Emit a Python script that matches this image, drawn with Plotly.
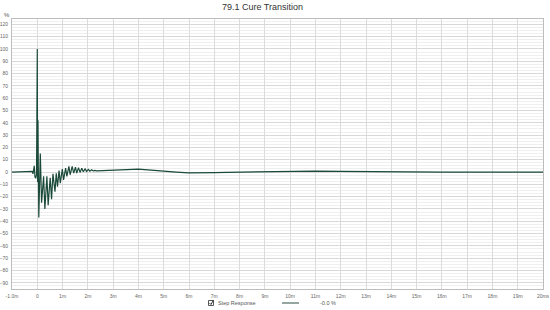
import plotly.graph_objects as go

# Step response data (time in ms, value in %)
time_ms = [-1.0, -0.5, -0.25, -0.2, -0.17, -0.14, -0.12, -0.09, -0.06, -0.03, -0.01,
           0.0, 0.012, 0.02, 0.028, 0.04, 0.06, 0.09, 0.12, 0.17, 0.25, 0.30, 0.38,
           0.43, 0.51, 0.565, 0.62, 0.70, 0.75, 0.80, 0.86, 0.91, 0.99, 1.04, 1.12,
           1.17, 1.25, 1.30, 1.38, 1.44, 1.51, 1.56, 1.63, 1.69, 1.76, 1.82, 1.89,
           1.95, 2.02, 2.08, 2.15, 2.21, 2.28, 2.35, 2.5, 2.8, 3.0, 3.5, 4.0, 4.5,
           5.0, 5.5, 6.0, 6.5, 7.0, 7.5, 8.0, 9.0, 10.0, 11.0, 12.0, 13.0, 14.0,
           15.0, 16.0, 17.0, 18.0, 19.0, 20.0]
step_pct = [0.0, 0.0, 0.3, 0.5, -1.5, 2.0, 5.0, -4.0, -5.0, -2.0, 40.0,
            100.0, -8.0, 17.0, 42.0, 5.0, -37.0, 0.0, 15.0, -25.0, -3.5, -30.0, -3.5,
            -27.0, -4.6, -22.0, -1.4, -16.0, -1.0, -12.0, 1.1, -9.0, 2.4, -6.4, 3.2,
            -3.5, 4.6, -2.2, 4.6, -0.9, 4.0, -0.9, 3.6, -0.3, 3.0, 0.2, 2.6,
            0.5, 2.2, 0.7, 1.8, 0.9, 1.4, 1.0, 1.1, 1.3, 1.6, 2.2, 2.3, 1.6,
            0.6, 0.0, -0.7, -0.8, -0.5, -0.2, 0.0, 0.3, 0.7, 0.8, 0.5, 0.2, 0.0,
            0.0, -0.1, -0.1, -0.2, -0.1, 0.0]

x_tickvals = list(range(-1, 21))
x_ticktext = ["-1.0m", "0"] + [f"{i}m" for i in range(1, 20)] + ["20ms"]
y_tickvals = list(range(-90, 121, 10))

title_text = "79.1 Cure Transition"
legend_name = "Step Response"
legend_value = "-0.0 %"

W, H = 550, 310
L, R, T, B = 12, 7, 19, 21
pw, ph = W - L - R, H - T - B

def px(x):
    return (x - L) / pw

def py(y):
    return (H - B - y) / ph

LINE = "#1b4a3b"
TICKFONT = dict(size=5, color="#666666", family="Liberation Sans Narrow, Liberation Sans, Arial, sans-serif")

fig = go.Figure()
fig.add_trace(go.Scatter(x=time_ms, y=step_pct, mode="lines",
                         line=dict(color=LINE, width=1.2), showlegend=False,
                         hoverinfo="skip"))

fig.update_layout(
    width=W, height=H, autosize=False,
    margin=dict(l=L, r=R, t=T, b=B, pad=0),
    paper_bgcolor="white", plot_bgcolor="white",
    font=dict(family="Liberation Sans, Arial, sans-serif", size=6, color="#666666"),
    xaxis=dict(range=[-1, 20], tickvals=x_tickvals, ticktext=x_ticktext,
               automargin=False, ticklabeloverflow="allow",
               showgrid=True, gridcolor="#dcdcdc", gridwidth=1,
               zeroline=False, showline=True, linecolor="#bdbdbd", mirror=True,
               ticks="", tickfont=TICKFONT, ticklabelstandoff=2),
    yaxis=dict(range=[-95, 124.3], tickvals=y_tickvals,
               automargin=False, ticklabeloverflow="allow",
               showgrid=True, gridcolor="#d8d8d8", gridwidth=1,
               minor=dict(dtick=2.5, showgrid=True, gridcolor="#efefef", gridwidth=1),
               zeroline=False, showline=True, linecolor="#bdbdbd", mirror=True,
               ticks="", tickfont=TICKFONT, ticklabelstandoff=2),
)

annotations = [
    dict(text=title_text, x=px(262), y=py(7), xref="paper", yref="paper",
         showarrow=False, xanchor="center", yanchor="middle",
         font=dict(size=9, color="#333333", family="Liberation Sans, Arial, sans-serif")),
    dict(text="%", x=px(7), y=py(15.5), xref="paper", yref="paper",
         showarrow=False, xanchor="center", yanchor="middle",
         font=dict(size=6, color="#555555")),
    dict(text=legend_name, x=px(215.5), y=py(303), xref="paper", yref="paper",
         showarrow=False, xanchor="left", yanchor="middle",
         font=dict(size=5.5, color="#555555")),
    dict(text=legend_value, x=px(318), y=py(303), xref="paper", yref="paper",
         showarrow=False, xanchor="left", yanchor="middle",
         font=dict(size=5.5, color="#555555")),
]
fig.update_layout(annotations=annotations)

shapes = [
    dict(type="rect", xref="paper", yref="paper",
         x0=px(208.5), x1=px(213.5), y0=py(305.5), y1=py(300.5),
         line=dict(color="#555555", width=1), fillcolor="white"),
    dict(type="path", xref="paper", yref="paper",
         path=f"M {px(209.5)} {py(303)} L {px(211)} {py(304.5)} L {px(213.5)} {py(300)}",
         line=dict(color="#333333", width=1)),
    dict(type="line", xref="paper", yref="paper",
         x0=px(282), x1=px(299), y0=py(303), y1=py(303),
         line=dict(color="#6f8a80", width=1.5)),
]
fig.update_layout(shapes=shapes)

fig.write_html("out.html", config={"displayModeBar": False},
               post_script="document.body.style.margin='0px';document.body.style.overflow='hidden';")
